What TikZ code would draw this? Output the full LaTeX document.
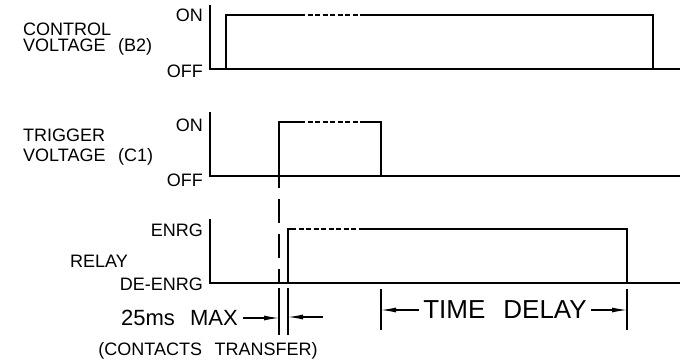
\documentclass[tikz,border=0pt]{standalone}
\usepackage{fontspec}
\setmainfont[WordSpace=2.5]{Liberation Sans}
\usepackage{tikz}
\usetikzlibrary{arrows.meta, calc}
\tikzset{
    sig/.style = {line width=1.1pt},
    brk/.style = {line width=1.1pt, dash pattern=on 5pt off 2.5pt},
    lbl/.style = {inner sep=0pt, font=\fontsize{18}{20}\selectfont},
    dim/.style = {line width=1.1pt, -{Latex[length=15pt,width=5pt]}},
    pics/axes/.style = {
        code = {%
        \coordinate (-org) at (0,0);
        \coordinate (-top) at (0,-64);
        \coordinate (-end) at (470,0);
        \draw[sig] (-top) -- (-org) -- (-end);
        }
    },
}

\begin{document}
\begin{tikzpicture}[x=1pt, y=-1pt]
\useasboundingbox (0,0) rectangle (682,362);

\pic (B2) at (210,69) {axes};
\node[lbl, anchor=east] (B2on) at (203,15) {ON};
\node[lbl, anchor=east] (B2off) at (203,71) {OFF};
\node[lbl, anchor=west] (ctl) at (23,29) {CONTROL};
\node[lbl, anchor=west] (ctlv) at (23,47) {VOLTAGE (B2)};
\draw[sig] (226,69) |- (300,15);
\draw[brk] (300,15) -- (361,15);
\draw[sig] (361,15) -| (653,69);

\pic (C1) at (210,176) {axes};
\node[lbl, anchor=east] (C1on) at (203,125) {ON};
\node[lbl, anchor=east] (C1off) at (203,180) {OFF};
\node[lbl, anchor=west] (trg) at (23,135) {TRIGGER};
\node[lbl, anchor=west] (trgv) at (23,157) {VOLTAGE (C1)};
\draw[sig] (279,176) |- (300,122);
\draw[brk] (300,122) -- (361,122);
\draw[sig] (361,122) -| (381,176);

\pic (R) at (210,283) {axes};
\node[lbl, anchor=east] (Ron) at (203,230) {ENRG};
\node[lbl, anchor=east] (Roff) at (203,284) {DE{-}ENRG};
\node[lbl, anchor=west] (rly) at (70,261) {RELAY};
\draw[sig] (288,283) |- (291,229);
\draw[brk] (291,229) -- (362,229);
\draw[sig] (362,229) -| (627,283);

\draw[sig, dash pattern=on 24pt off 11pt, dash phase=12pt] (279,176) -- (279,283);
\draw[sig] (279,288) -- (279,335);
\draw[sig] (288,288) -- (288,335);
\coordinate (ta) at (279,317);
\coordinate (tb) at (288,317);
\coordinate (tc) at (323,317);
\node[lbl, anchor=east, font=\fontsize{22}{24}\selectfont] (max) at (238,318) {25ms MAX};
\draw[dim] ([xshift=5pt]max.east) -- (max.east -| ta);
\draw[dim] (tc) -- (tb);
\node[lbl] (ctt) at (208,351) {(CONTACTS TRANSFER)};

\draw[sig] (381,289) -- (381,330);
\draw[sig] (627,289) -- (627,330);
\coordinate (tdl) at (381,310);
\coordinate (tdr) at (627,310);
\node[lbl, font=\fontsize{26}{28}\selectfont] (td) at (505,310) {TIME DELAY};
\draw[dim] ([xshift=-4pt]td.west) -- (td.west -| tdl);
\draw[dim] ([xshift=4pt]td.east) -- (td.east -| tdr);
\end{tikzpicture}
\end{document}
